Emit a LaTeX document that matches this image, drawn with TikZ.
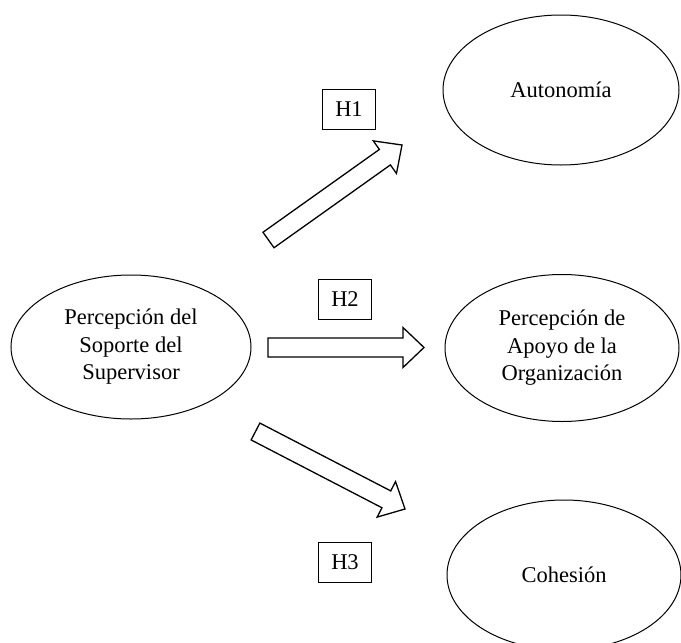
\documentclass[tikz,border=0pt]{standalone}
\usepackage{fontspec}
\setmainfont{Liberation Serif}
\usetikzlibrary{shapes.geometric,calc}

\tikzset{
  var/.style={draw, ellipse, line width=1pt, inner sep=0pt, align=center,
    font=\fontsize{22.5}{27.5}\selectfont},
  hyp/.style={draw, line width=1pt, minimum width=53pt, minimum height=40pt,
    inner sep=0pt, font=\fontsize{22.5}{27}\selectfont},
  blockarrow/.style={draw, line width=1.3pt, line join=miter},
}

% hollow block arrow from tail #1 to tip #2
\newcommand{\hyparrow}[2]{%
  \draw[blockarrow] ($(#1)!9.5pt!90:(#2)$)
    -- ($(#2)!21pt!(#1)!9.5pt!-90:(#1)$)
    -- ($(#2)!21pt!(#1)!20pt!-90:(#1)$)
    -- (#2)
    -- ($(#2)!21pt!(#1)!20pt!90:(#1)$)
    -- ($(#2)!21pt!(#1)!9.5pt!90:(#1)$)
    -- ($(#1)!9.5pt!-90:(#2)$) -- cycle;}

\begin{document}
\begin{tikzpicture}[x=1pt, y=-1pt]
        \useasboundingbox (0, 0) rectangle (681, 643);

        % variables
        \node[var, minimum width=240pt, minimum height=144pt] (soporte) at (131, 347) {Percepción del\\Soporte del\\Supervisor};
        \node[var, minimum width=236pt, minimum height=150pt] (autonomia) at (561, 90) {Autonomía};
        \node[var, minimum width=234pt, minimum height=147pt] (apoyo) at (562, 348) {Percepción de\\Apoyo de la\\Organización};
        \node[var, minimum width=234pt, minimum height=150pt] (cohesion) at (564, 575) {Cohesión};

        % hypotheses
        \node[hyp] (h1) at (349, 109) {H1};
        \node[hyp] (h2) at (345, 299) {H2};
        \node[hyp] (h3) at (345, 562) {H3};

        % arrows
        \coordinate (h1tail) at (268.5, 240);
        \coordinate (h1tip) at (402, 145);
        \coordinate (h2tail) at (268, 347.5);
        \coordinate (h2tip) at (424, 347.5);
        \coordinate (h3tail) at (255.5, 431.5);
        \coordinate (h3tip) at (405, 509);

        \hyparrow{h1tail}{h1tip}
        \hyparrow{h2tail}{h2tip}
        \hyparrow{h3tail}{h3tip}
      \end{tikzpicture}
\end{document}
